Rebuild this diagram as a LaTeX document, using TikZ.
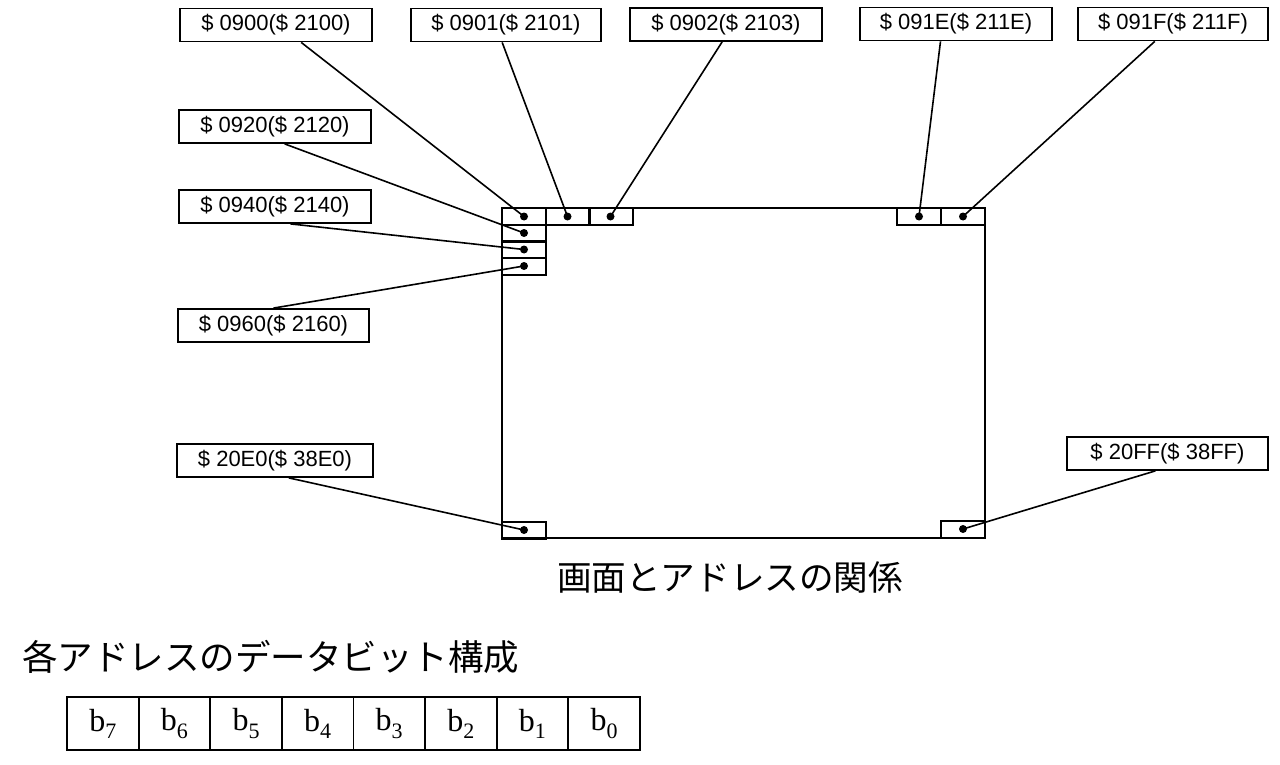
\documentclass[tikz,border=0pt]{standalone}
\usepackage{fontspec}
\newfontfamily\addrfont{Liberation Sans}
\newfontfamily\bitfont{Liberation Serif}
\newfontfamily\jpfont{Noto Sans CJK JP}
\usetikzlibrary{calc}
\tikzset{
  addr/.style={draw, line width=1.8pt, minimum width=192, minimum height=33, inner sep=0pt,
    font=\addrfont\fontsize{22}{22}\selectfont},
  cell/.style={draw, line width=2pt, minimum width=44, minimum height=17, inner sep=0pt},
  bitbox/.style={draw, line width=1.8pt, minimum width=71.6, minimum height=53, inner sep=0pt,
    font=\bitfont\fontsize{32}{32}\selectfont},
  lead/.style={line width=1.6pt},
  jp/.style={inner sep=0pt, font=\jpfont\fontsize{34.6}{35}\selectfont}
}
\begin{document}
\begin{tikzpicture}[x=1pt,y=-1pt]
\path[fill=white,use as bounding box] (0,0) rectangle (1280,765);
\draw[line width=2.6pt] (502,208) rectangle (985,538); % the screen
\foreach \n/\x/\y in {0900/524/216.5, 0920/524/233, 0940/524/249.5, 0960/524/266,
  0901/567.5/216.5, 0902/610.5/216.5, 091E/919/216.5, 091F/963/216.5,
  20E0/524/530, 20FF/963/529}{ % the cells
  \node[cell] (c\n) at (\x,\y) {};
  \fill (c\n.center) circle (4);}
\foreach \n/\m/\x/\y/\w in {0900/2100/276/25/192, 0901/2101/506/25/190, 0902/2103/726/24.5/192,
  091E/211E/956/24/192, 091F/211F/1173/24/190, 0920/2120/275/126.5/192,
  0940/2140/275/206.5/192, 0960/2160/273.5/325.5/191,
  20E0/38E0/275/460.5/196, 20FF/38FF/1167.5/453.5/201}
  \node[addr, minimum width=\w] (a\n) at (\x,\y) {\$ \n(\$ \m)};
\foreach \n/\f in {0900/0.63, 0901/0.48, 0902/0.48, 091E/0.42, 091F/0.405,
  0920/0.55, 0940/0.58, 20E0/0.57, 20FF/0.44}
  \draw[lead] ($(a\n.south west)!\f!(a\n.south east)$) -- (c\n.center);
\draw[lead] ($(a0960.north west)!0.5!(a0960.north east)$) -- (c0960.center);
\node[jp] (cap) at (730,577) {画面とアドレスの関係};
\node[jp, anchor=west, font=\jpfont\fontsize{35.5}{36}\selectfont] (ttl) at (22,657) {各アドレスのデータビット構成};
\foreach \i [evaluate=\i as \k using int(7-\i)] in {0,...,7}
  \node[bitbox] (bit\k) at (102.8+71.6*\i,723.5) {b\raisebox{-0.22em}{\fontsize{22}{22}\selectfont\k}};
\end{tikzpicture}
\end{document}
